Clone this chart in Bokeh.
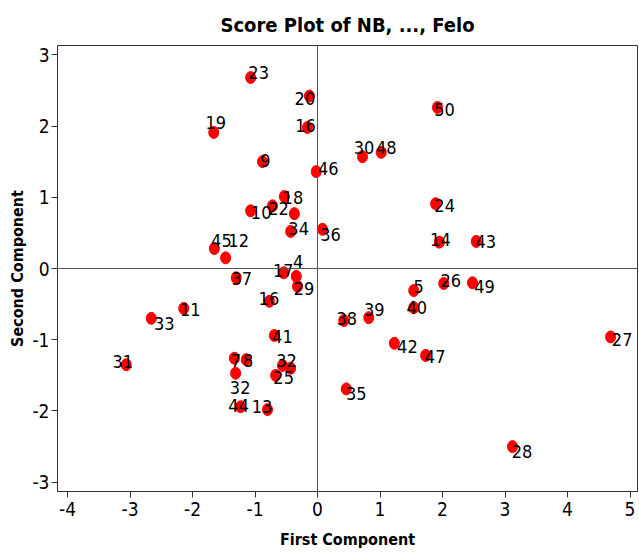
from bokeh.plotting import figure
from bokeh.models import ColumnDataSource, FixedTicker, Span
from bokeh.core.properties import value
from bokeh.embed import file_html
from bokeh.resources import INLINE

# ---- data ----
labels = ["23", "20", "16", "19", "50", "9", "30", "48", "46", "18",
          "22", "10", "", "34", "24", "36", "14", "43", "45", "12",
          "37", "17", "4", "29", "16", "41", "38", "39", "5", "40",
          "42", "26", "49", "27", "11", "33", "31", "7", "8", "32",
          "44", "13", "32", "", "25", "35", "47", "28"]
first_component = [-1.07, -0.13, -0.16, -1.66, 1.92, -0.88, 0.72, 1.02, -0.02, -0.53,
                   -0.72, -1.07, -0.37, -0.43, 1.89, 0.08, 1.95, 2.54, -1.65, -1.47,
                   -1.30, -0.54, -0.34, -0.32, -0.77, -0.69, 0.42, 0.82, 1.54, 1.54,
                   1.23, 2.02, 2.48, 4.69, -2.14, -2.66, -3.06, -1.33, -1.14, -1.31,
                   -1.23, -0.80, -0.56, -0.43, -0.67, 0.46, 1.73, 3.12]
second_component = [2.68, 2.42, 1.98, 1.91, 2.26, 1.50, 1.57, 1.63, 1.36, 1.01,
                     0.88, 0.81, 0.77, 0.52, 0.91, 0.55, 0.37, 0.38, 0.28, 0.15,
                     -0.13, -0.06, -0.11, -0.25, -0.46, -0.94, -0.73, -0.69, -0.31, -0.55,
                     -1.05, -0.21, -0.20, -0.96, -0.56, -0.70, -1.35, -1.26, -1.28, -1.47,
                     -1.94, -1.98, -1.36, -1.40, -1.50, -1.69, -1.22, -2.50]
x_ticks = [-4, -3, -2, -1, 0, 1, 2, 3, 4, 5]
y_ticks = [-3, -2, -1, 0, 1, 2, 3]

# label placement (screen pixel nudges, like Minitab's label layout)
label_dx = [8, -4.5, -2, 2, 7, 3, 1.5, 5, 12, 8.5,
            6, 10.5, 0, 8, 9, 8, 1, 9.5, 7, 13,
            5.5, -0.5, 2, 6.5, -0.5, 8, 3, 5.5, 5, 3,
            13, 7, 12, 11.5, 6.5, 13, -3.5, 1.5, 2, 4.5,
            -2, -5.5, 4, 0, 8, 10, 9.5, 9.5]
label_dy = [-5, 2, -2, -10, 2, -1, -9, -5, -3, 1,
            3, 2, 0, -3, 2, 5, -3, 0, -8, -17,
            1, -2, -15, 2, -3, 1, -2, -8, -4, 0,
            3, -3, 4, 3, 1, 5, -3, 2, 1, 14,
            -1, -3, -5, 0, 2, 5, 1, 5]

src = ColumnDataSource(dict(x=first_component, y=second_component, lab=labels,
                            dx=label_dx, dy=label_dy))

FONT_C = "DejaVu Sans Condensed"

p = figure(width=639, height=553, x_range=(-4.16, 5.12), y_range=(-3.13, 3.13),
           output_backend="svg", toolbar_location=None,
           title="Score Plot of NB, ..., Felo")
p.min_border_left = 57
p.min_border_right = 2
p.min_border_top = 45
p.min_border_bottom = 62
p.background_fill_color = "white"
p.border_fill_color = "white"
p.outline_line_color = "#333333"
p.outline_line_width = 1
p.xgrid.grid_line_color = None
p.ygrid.grid_line_color = None

p.title.align = "center"
p.title.text_font = FONT_C
p.title.text_font_style = "bold"
p.title.text_font_size = "20px"
p.title.text_color = "black"
p.title.standoff = 18

p.xaxis.ticker = FixedTicker(ticks=x_ticks)
p.yaxis.ticker = FixedTicker(ticks=y_ticks)
p.xaxis.major_label_overrides = {t: str(t) for t in x_ticks}
p.yaxis.major_label_overrides = {t: str(t) for t in y_ticks}
for ax in (p.xaxis[0], p.yaxis[0]):
    ax.major_tick_in = 0
    ax.major_tick_out = 6
    ax.minor_tick_line_color = None
    ax.axis_line_color = "#333333"
    ax.major_tick_line_color = "#333333"
    ax.major_label_text_font = FONT_C
    ax.major_label_text_font_size = "19px"
    ax.major_label_text_color = "black"
    ax.axis_label_text_font = FONT_C
    ax.axis_label_text_font_style = "bold"
    ax.axis_label_text_font_size = "16px"
    ax.axis_label_text_color = "black"
p.xaxis.axis_label = "First Component"
p.yaxis.axis_label = "Second Component"
p.xaxis.major_label_standoff = 4
p.yaxis.major_label_standoff = 2
p.xaxis.axis_label_standoff = 11
p.yaxis.axis_label_standoff = 2

p.add_layout(Span(location=0, dimension="height", line_color="#555555", line_width=1))
p.add_layout(Span(location=0, dimension="width", line_color="#555555", line_width=1))

p.ellipse(x="x", y="y", width=10, height=12, width_units="screen", height_units="screen",
          fill_color="#ff0000", line_color="#ff0000", source=src)
p.text(x="x", y="y", text="lab", x_offset="dx", y_offset="dy",
       text_align="center", text_baseline="middle",
       text_font=value(FONT_C), text_font_size="18px", text_color="black", source=src)

open("out.html", "w").write(file_html(p, INLINE))
